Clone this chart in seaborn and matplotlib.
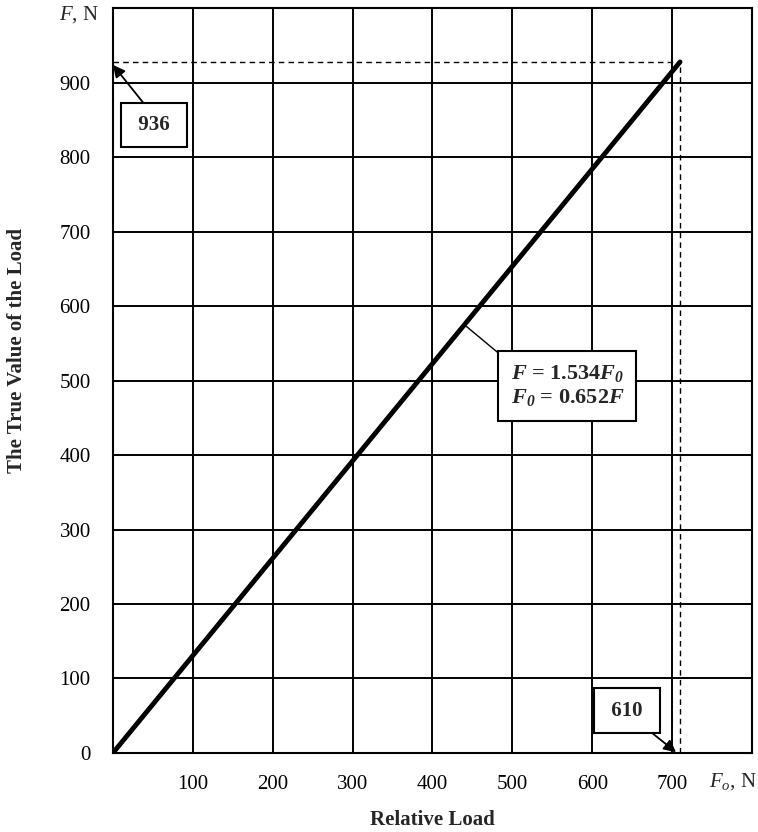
import matplotlib
matplotlib.use('Agg')
import matplotlib.pyplot as plt
import seaborn as sns

# data
relative_load = [0, 710]
true_load = [0, 928]
x_ticks = [100, 200, 300, 400, 500, 600, 700]
y_ticks = [0, 100, 200, 300, 400, 500, 600, 700, 800, 900]
f_label = '936'
f0_label = '610'

sns.set_theme(style='white')
plt.rcParams['font.family'] = ['Liberation Serif', 'DejaVu Serif']
plt.rcParams['mathtext.fontset'] = 'custom'
plt.rcParams['mathtext.rm'] = 'Liberation Serif'
plt.rcParams['mathtext.it'] = 'Liberation Serif:italic'
plt.rcParams['mathtext.bf'] = 'Liberation Serif:bold:italic'

fig = plt.figure(figsize=(7.58, 8.32), dpi=100)
ax = fig.add_axes([0.149, 0.095, 0.843, 0.895])

sns.lineplot(x=relative_load, y=true_load, ax=ax, color='black', linewidth=3.5)

# dashed projection lines
ax.hlines(true_load[-1], 0, relative_load[-1], colors='black', linewidth=1.0,
          linestyles=(0, (4, 3)))
ax.vlines(relative_load[-1], 0, true_load[-1], colors='black', linewidth=1.0,
          linestyles=(0, (4, 3)))

ax.set_xlim(0, 800)
ax.set_ylim(0, 1000)
ax.set_xticks(x_ticks)
ax.set_yticks(y_ticks)
ax.set_xticklabels([str(v) for v in x_ticks])
ax.set_yticklabels([str(v) for v in y_ticks])
ax.tick_params(length=0, labelsize=15, pad=16, colors='black')
ax.grid(True, color='black', linewidth=1.4)
for s in ax.spines.values():
    s.set_color('black')
    s.set_linewidth(1.5)

ax.set_xlabel('Relative Load', fontsize=15, fontweight='bold')
ax.set_ylabel('The True Value of the Load', fontsize=15, fontweight='bold')
ax.xaxis.set_label_coords(0.5, -0.077)
ax.yaxis.set_label_coords(-0.134, 0.54)

ax.text(-0.022, 0.991, r'$F$, N', transform=ax.transAxes, fontsize=15,
        ha='right', va='center')
ax.text(0.97, -0.039, r'$F_o$, N', transform=ax.transAxes, fontsize=15,
        ha='center', va='center')

box = dict(boxstyle='square,pad=0.58', fc='white', ec='black', lw=1.5)
ax.annotate(' ' + f_label + ' ', xy=(0, true_load[-1] - 4), xytext=(51, 843),
            fontsize=15, fontweight='bold', ha='center', va='center',
            bbox=box,
            arrowprops=dict(arrowstyle='-|>', color='black', lw=1.3,
                            mutation_scale=18, shrinkA=0, shrinkB=0,
                            relpos=(0.49, 1.0)))
ax.annotate(' ' + f0_label + ' ', xy=(relative_load[-1] - 5, 1), xytext=(644, 57),
            fontsize=15, fontweight='bold', ha='center', va='center',
            bbox=box,
            arrowprops=dict(arrowstyle='-|>', color='black', lw=1.3,
                            mutation_scale=18, shrinkA=0, shrinkB=0,
                            relpos=(0.72, 0.0)))

slope = true_load[-1] / relative_load[-1]
ax.annotate(r'$\mathbf{F}$ = 1.534$\mathbf{F}_\mathbf{0}$' + '\n' +
            r'$\mathbf{F}_\mathbf{0}$ = 0.652$\mathbf{F}$',
            xy=(440, 440 * slope), xytext=(569, 493),
            fontsize=16, fontweight='bold', ha='center', va='center',
            linespacing=1.2,
            bbox=dict(boxstyle='square,pad=0.55', fc='white', ec='black', lw=1.5),
            arrowprops=dict(arrowstyle='-', color='black', lw=1.0,
                            shrinkA=0, shrinkB=0, relpos=(0.0, 1.0)))

plt.savefig('out.png', dpi=100)
plt.close()
